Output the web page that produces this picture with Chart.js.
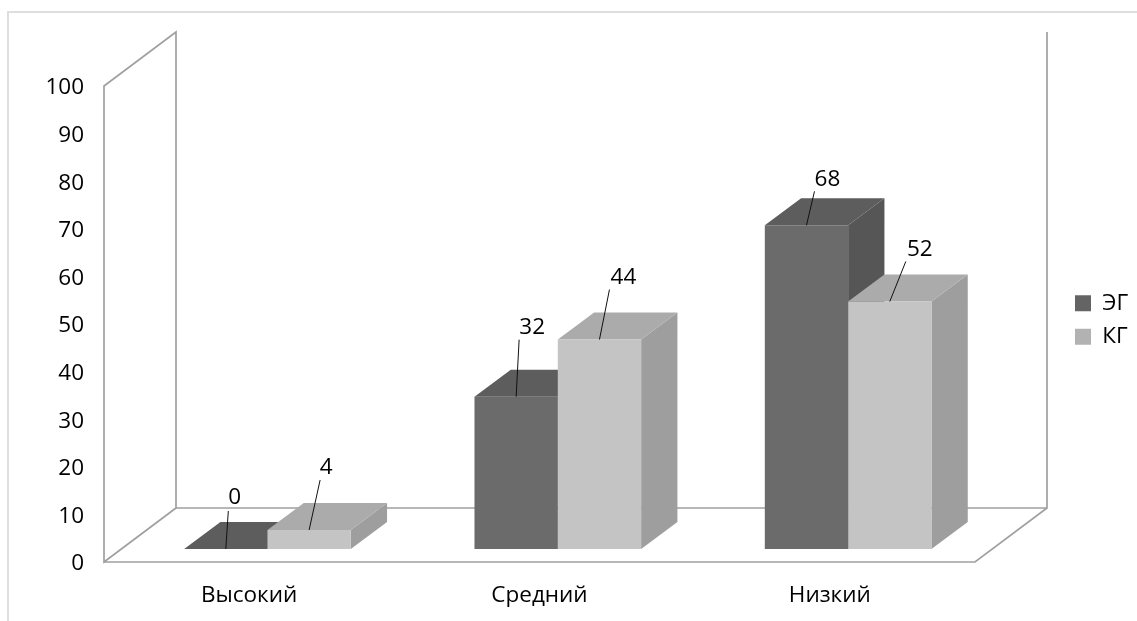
<!DOCTYPE html>
<html lang="ru">
<head>
<meta charset="utf-8">
<title>Уровни ЭГ и КГ</title>
<script src="https://cdn.jsdelivr.net/npm/chart.js@4"></script>
<style>
  html, body { margin: 0; padding: 0; background: #fff; overflow: hidden; }
  canvas { display: block; }
</style>
</head>
<body>
<canvas id="chart" width="1137" height="621"></canvas>
<script>
// Values per level
const categories = ['Высокий', 'Средний', 'Низкий'];
const egValues = [0, 32, 68];
const kgValues = [4, 44, 52];
const yTicks = [0, 10, 20, 30, 40, 50, 60, 70, 80, 90, 100];

// Leader line tips and value text, relative to the middle of a bar's top edge
const egLeaders = [[2.5, -38, 9, -51], [3, -57, 16, -69], [8, -34, 21, -46]];
const kgLeaders = [[11, -50, 17, -62], [10, -50, 24, -62], [16, -40, 30, -52]];

const FONT = "'Open Sans', 'Noto Sans', sans-serif";
const FONT_SIZE = 22.5;
const WALL = { dx: 72, dy: -54 };    // depth of the box
const BAR_SHIFT = { dx: 18.3, dy: -13 }; // bars stand inside the floor
const BAR_DEPTH = { dx: 36.3, dy: -27 };

const palette = [
  { front: '#6b6b6b', top: '#5d5d5d', side: '#565656', legend: '#646464' },
  { front: '#c4c4c4', top: '#ababab', side: '#9e9e9e', legend: '#b2b2b2' }
];

function poly(ctx, pts, fill) {
  ctx.beginPath();
  pts.forEach(([x, y], i) => i ? ctx.lineTo(x, y) : ctx.moveTo(x, y));
  ctx.closePath();
  ctx.fillStyle = fill;
  ctx.fill();
}

const box3d = {
  id: 'box3d',
  beforeDraw(chart) {
    const { ctx, chartArea: a } = chart;
    ctx.save();
    // outer frame of the figure: top and left edges only
    ctx.strokeStyle = '#dedede';
    ctx.lineWidth = 2;
    ctx.beginPath();
    ctx.moveTo(8, chart.height);
    ctx.lineTo(8, 12);
    ctx.lineTo(chart.width, 12);
    ctx.stroke();

    const bx = a.left + WALL.dx, tx = a.right + WALL.dx;
    const by = a.bottom + WALL.dy, ty = a.top + WALL.dy;
    ctx.strokeStyle = '#a0a0a0';
    ctx.lineWidth = 1.7;
    ctx.lineJoin = 'miter';
    // left wall
    ctx.beginPath();
    ctx.moveTo(a.left, a.bottom);
    ctx.lineTo(a.left, a.top);
    ctx.lineTo(bx, ty);
    ctx.lineTo(bx, by);
    ctx.closePath();
    ctx.stroke();
    // back wall right edge and floor outline
    ctx.beginPath();
    ctx.moveTo(tx, ty);
    ctx.lineTo(tx, by);
    ctx.lineTo(bx, by);
    ctx.moveTo(a.left, a.bottom);
    ctx.lineTo(a.right, a.bottom);
    ctx.lineTo(tx, by);
    ctx.stroke();
    ctx.restore();
  },
  beforeDatasetsDraw(chart) {
    const { ctx } = chart;
    ctx.save();
    ctx.translate(BAR_SHIFT.dx, BAR_SHIFT.dy);
    // side and top faces go underneath the library's front faces
    chart.data.datasets.forEach((ds, i) => {
      chart.getDatasetMeta(i).data.forEach(bar => {
        const l = bar.x - bar.width / 2, r = bar.x + bar.width / 2;
        const d = BAR_DEPTH;
        if (bar.base - bar.y > 0.5) {
          poly(ctx, [[r, bar.y], [r + d.dx, bar.y + d.dy], [r + d.dx, bar.base + d.dy], [r, bar.base]], palette[i].side);
        }
        poly(ctx, [[l, bar.y], [l + d.dx, bar.y + d.dy], [r + d.dx, bar.y + d.dy], [r, bar.y]], palette[i].top);
      });
    });
  },
  afterDatasetsDraw(chart) {
    const { ctx } = chart;
    ctx.restore();
    ctx.save();
    ctx.font = `${FONT_SIZE}px ${FONT}`;
    ctx.textAlign = 'center';
    ctx.textBaseline = 'middle';
    [egLeaders, kgLeaders].forEach((leaders, i) => {
      chart.getDatasetMeta(i).data.forEach((bar, j) => {
        const x = bar.x + BAR_SHIFT.dx, y = bar.y + BAR_SHIFT.dy;
        const [lx, ly, tx, ty] = leaders[j];
        ctx.strokeStyle = '#111';
        ctx.lineWidth = 1;
        ctx.beginPath();
        ctx.moveTo(x, y);
        ctx.lineTo(x + lx, y + ly);
        ctx.stroke();
        ctx.fillStyle = '#000';
        ctx.fillText(String(chart.data.datasets[i].data[j]), x + tx, y + ty);
      });
    });
    ctx.restore();
  },
  afterLayout(chart) {
    // park the legend beside the box, level with the middle of the wall
    const lg = chart.legend, w = lg.width, h = lg.height;
    lg.left = 1064; lg.right = 1064 + w;
    lg.top = 320 - h / 2; lg.bottom = 320 + h / 2;
  }
};

const chart = new Chart(document.getElementById('chart'), {
  type: 'bar',
  data: {
    labels: categories,
    datasets: [
      { label: 'ЭГ', data: egValues, backgroundColor: palette[0].front },
      { label: 'КГ', data: kgValues, backgroundColor: palette[1].front }
    ]
  },
  options: {
    responsive: false,
    animation: false,
    layout: { padding: { left: 8, top: 86, right: 100, bottom: 0 } },
    datasets: { bar: { categoryPercentage: 0.574, barPercentage: 1 } },
    plugins: {
      tooltip: { enabled: false },
      legend: {
        position: 'right',
        labels: {
          boxWidth: 16,
          boxHeight: 16,
          padding: 11,
          color: '#000',
          font: { family: FONT, size: FONT_SIZE },
          generateLabels: c => c.data.datasets.map((ds, i) => ({
            text: ds.label, fillStyle: palette[i].legend, strokeStyle: palette[i].legend,
            lineWidth: 0, datasetIndex: i, hidden: false
          }))
        }
      }
    },
    scales: {
      x: {
        grid: { display: false },
        border: { display: false },
        ticks: { color: '#000', padding: 12, font: { family: FONT, size: FONT_SIZE }, maxRotation: 0 },
        afterFit: s => { s.height = 59; }
      },
      y: {
        min: 0,
        max: 100,
        grid: { display: false, drawTicks: false },
        border: { display: false },
        afterFit: s => { s.width = 96; },
        afterBuildTicks: s => { s.ticks = yTicks.map(value => ({ value })); },
        ticks: { color: '#000', padding: 20, labelOffset: 2, font: { family: FONT, size: FONT_SIZE } }
      }
    }
  },
  plugins: [box3d]
});

// trim the right padding so the front plane ends where the floor does
const FRONT_RIGHT = 975;
chart.options.layout.padding.right += chart.chartArea.right - FRONT_RIGHT;
chart.update('none');
</script>
</body>
</html>
